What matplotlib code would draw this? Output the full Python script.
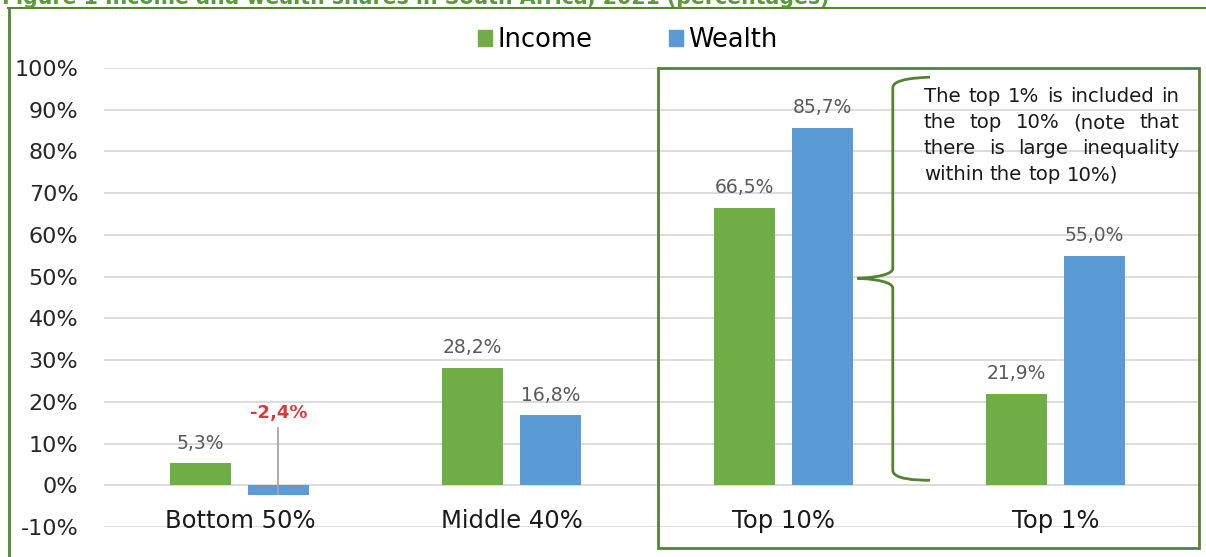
import matplotlib.pyplot as plt
from matplotlib.patches import Rectangle, Patch, PathPatch
from matplotlib.path import Path
import numpy as np

plt.rcParams['font.family'] = ['DejaVu Sans']

groups = ["Bottom 50%", "Middle 40%", "Top 10%", "Top 1%"]
income = [5.3, 28.2, 66.5, 21.9]
wealth = [-2.4, 16.8, 85.7, 55.0]
yticks = list(range(-10, 101, 10))
note = ["The top 1% is included in",
        "the top 10% (note that",
        "there is large inequality",
        "within the top 10%)"]
title = "Figure 1 Income and wealth shares in South Africa, 2021 (percentages)"

green = "#70ad47"
blue = "#5b9bd5"
frame_green = "#548235"

W, H = 1206, 557
fig = plt.figure(figsize=(W / 100, H / 100), dpi=100)
ax = fig.add_axes([104 / W, (H - 527) / H, 1096 / W, (527 - 68) / H])

x = np.arange(len(groups))
bw = 0.224
ax.bar(x - 0.145, income, bw, color=green, zorder=3)
ax.bar(x + 0.1415, wealth, bw, color=blue, zorder=3)

ax.set_xlim(-0.5, -0.5 + 1096 / 272)
ax.set_ylim(-10, 100)
ax.set_yticks(yticks)
ax.set_yticklabels([f"{t}%" for t in yticks], fontsize=16, color="#262626")
ax.tick_params(axis="y", length=0, pad=18.5)
ax.set_xticks([])
ax.grid(axis="y", color="#d9d9d9", linewidth=1.3, zorder=0)
for s in ax.spines.values():
    s.set_visible(False)


def fmt(v):
    return f"{v:.1f}%".replace(".", ",")


# data labels
for xi, v in zip(x - 0.145, income):
    ax.text(xi, v + 2.5, fmt(v), ha="center", va="bottom", fontsize=13.5, color="#595959")
for xi, v in zip(x + 0.1415, wealth):
    if v < 0:
        ax.text(xi, 15.2, fmt(v), ha="center", va="bottom", fontsize=13,
                color="#d9393b", fontweight="bold")
        ax.plot([xi, xi], [-2, 13.7], color="#a6a6a6", linewidth=1.3, zorder=4)
    else:
        ax.text(xi, v + 2.5, fmt(v), ha="center", va="bottom", fontsize=13.5, color="#595959")

# category labels
for xi, g in zip(x, groups):
    ax.text(xi, -8.5, g, ha="center", va="center", fontsize=17.5, color="#1a1a1a")

# legend
handles = [Patch(color=green, label="Income"), Patch(color=blue, label="Wealth")]
fig.legend(handles=handles, ncol=2, loc="center", bbox_to_anchor=(628 / W, 1 - 40 / H),
           frameon=False, fontsize=18.5, handlelength=0.55, handleheight=0.55,
           handletextpad=0.2, columnspacing=3.0)

# box around top groups
fig.patches.append(Rectangle((658 / W, (H - 548) / H), (1199 - 658) / W, (548 - 68) / H,
                             transform=fig.transFigure, fill=False,
                             edgecolor=frame_green, linewidth=2, zorder=5))

# outer frame lines and cropped title
fig.add_artist(plt.Line2D([8 / W, 1], [1 - 8 / H, 1 - 8 / H], transform=fig.transFigure,
                          color=frame_green, linewidth=1.5))
fig.add_artist(plt.Line2D([9 / W, 9 / W], [0, 1 - 8 / H], transform=fig.transFigure,
                          color=frame_green, linewidth=2))
t = fig.text(2 / W, 1 - 4 / H, title, ha="left", va="baseline", fontsize=14,
             fontweight="bold", color="#5b9a3b")
fig.canvas.draw()
renderer = fig.canvas.get_renderer()
tw = t.get_window_extent(renderer).width
t.set_fontsize(14 * 830 / tw)

# curly brace pointing at the top 10% bars
bx, tip, rx = 2.40, 2.27, 2.537
verts = [(rx, 97.8), (bx, 97.5), (bx, 95.9), (bx, 95.0),
         (bx, 52.0),
         (bx, 49.8), (tip, 49.6), (tip, 49.6),
         (tip, 49.6), (bx, 49.4), (bx, 47.2),
         (bx, 3.6),
         (bx, 1.4), (rx - 0.05, 1.2), (rx, 1.2)]
codes = [Path.MOVETO, Path.CURVE4, Path.CURVE4, Path.CURVE4,
         Path.LINETO,
         Path.CURVE4, Path.CURVE4, Path.CURVE4,
         Path.CURVE4, Path.CURVE4, Path.CURVE4,
         Path.LINETO,
         Path.CURVE4, Path.CURVE4, Path.CURVE4]
ax.add_patch(PathPatch(Path(verts, codes), fill=False, edgecolor=frame_green,
                       linewidth=2, clip_on=False, zorder=6))

# justified note text
x0, x1 = 924, 1179
fs = 14.2
for i, line in enumerate(note):
    yy = 1 - (97 + 26 * i) / H
    words = line.split()
    arts = [fig.text(0, yy, w, ha="left", va="center", fontsize=fs, color="#1a1a1a")
            for w in words]
    widths = [a.get_window_extent(renderer).width for a in arts]
    if i < len(note) - 1 and len(words) > 1:
        gap = (x1 - x0 - sum(widths)) / (len(words) - 1)
    else:
        gap = fs * 0.318 * 100 / 72
    pos = x0
    for a, wdt in zip(arts, widths):
        a.set_x(pos / W)
        pos += wdt + gap

fig.savefig("out.png", dpi=100)
